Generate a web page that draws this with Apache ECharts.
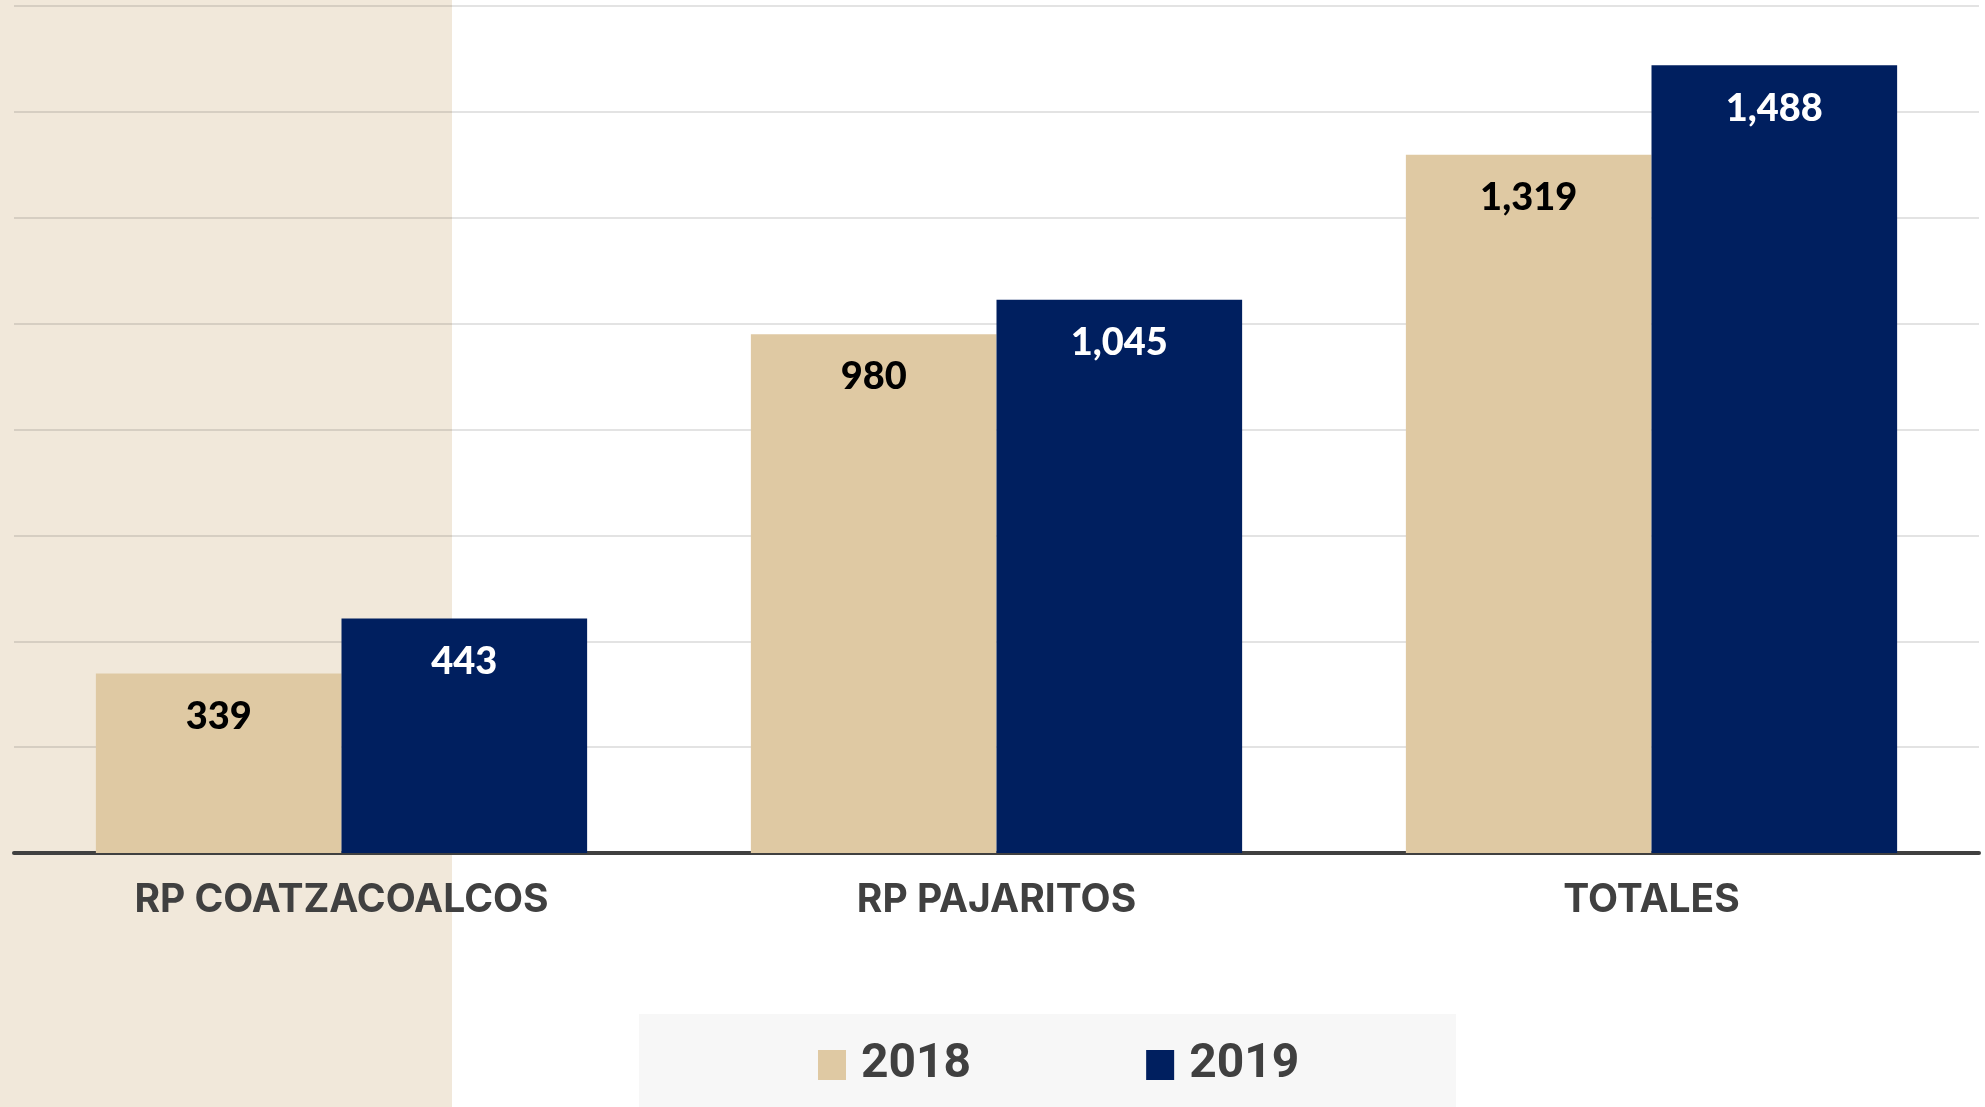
<!DOCTYPE html>
<html>
<head>
<meta charset="utf-8">
<style>
  html, body { margin: 0; padding: 0; background: #fff; }
  #chart { width: 1985px; height: 1107px; }
</style>
<script src="https://cdn.jsdelivr.net/npm/echarts@6/dist/echarts.min.js"></script>
</head>
<body>
<div id="chart"></div>
<script>
// data
const categories = ['RP COATZACOALCOS', 'RP PAJARITOS', 'TOTALES']
const years = ['2018', '2019']
const values2018 = [339, 980, 1319]
const values2019 = [443, 1045, 1488]

const beige = '#dfc9a3'
const navy = '#001f5f'

const chart = echarts.init(document.getElementById('chart'))

function fmt(p) {
  return p.value.toLocaleString('en-US')
}

chart.setOption({
  backgroundColor: '#ffffff',
  animation: false,
  graphic: [
    // beige panel on the left
    { type: 'rect', z: -10, silent: true, shape: { x: 0, y: 0, width: 452, height: 1107 }, style: { fill: '#f1e8da' } },
    // legend box
    { type: 'rect', z: -10, silent: true, shape: { x: 639, y: 1014, width: 817, height: 93 }, style: { fill: '#f7f7f7' } }
  ],
  grid: {
    left: 14,
    right: 6,
    top: 6,
    bottom: 254,
    containLabel: false,
    outerBoundsMode: 'none'
  },
  legend: {
    data: years,
    left: 818,
    top: 1041,
    padding: 0,
    itemWidth: 28,
    itemHeight: 30,
    itemGap: 175,
    icon: 'rect',
    textStyle: {
      fontFamily: 'Roboto',
      fontWeight: 'bold',
      fontSize: 48,
      color: '#404040',
      padding: [0, 0, 0, 10]
    }
  },
  xAxis: {
    type: 'category',
    data: categories,
    axisTick: { show: false },
    axisLine: { lineStyle: { color: '#404040', width: 4 } },
    axisLabel: {
      margin: 28,
      fontFamily: 'Inter',
      fontWeight: 'bold',
      fontSize: 39,
      color: '#404040'
    }
  },
  yAxis: {
    type: 'value',
    min: 0,
    max: 1600,
    interval: 200,
    axisLabel: { show: false },
    axisLine: { show: false },
    axisTick: { show: false },
    splitLine: { lineStyle: { color: 'rgba(0,0,0,0.15)', width: 1.5 } }
  },
  series: [
    {
      name: '2018',
      type: 'bar',
      data: values2018,
      barGap: '0%',
      barCategoryGap: '25%',
      itemStyle: { color: beige },
      label: {
        show: true,
        position: 'insideTop',
        distance: 24,
        formatter: fmt,
        fontFamily: 'Lato',
        fontWeight: 900,
        fontSize: 38,
        color: '#000000'
      }
    },
    {
      name: '2019',
      type: 'bar',
      data: values2019,
      barGap: '0%',
      barCategoryGap: '25%',
      itemStyle: { color: navy },
      label: {
        show: true,
        position: 'insideTop',
        distance: 24,
        formatter: fmt,
        fontFamily: 'Lato',
        fontWeight: 900,
        fontSize: 38,
        color: '#ffffff'
      }
    }
  ]
})
</script>
</body>
</html>
